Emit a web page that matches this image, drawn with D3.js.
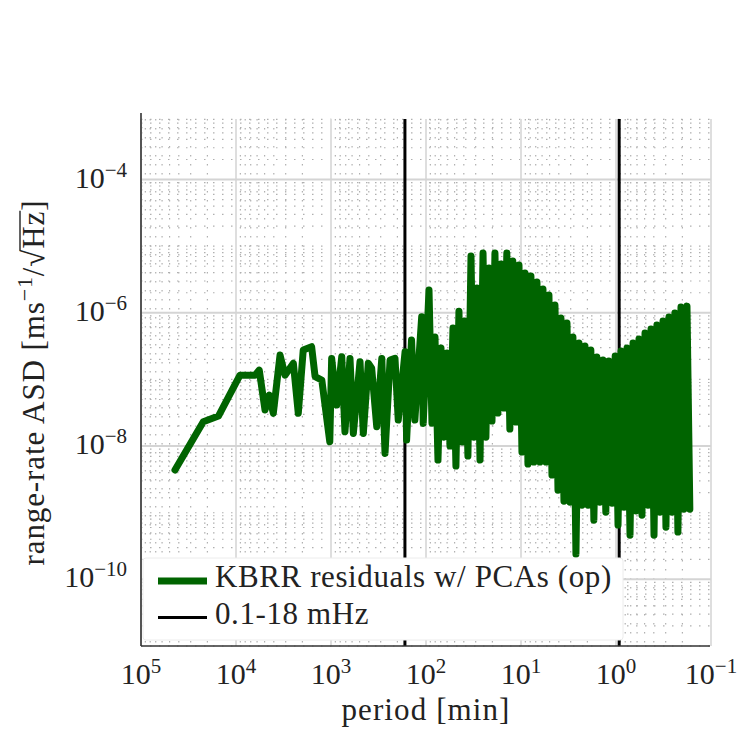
<!DOCTYPE html>
<html>
<head>
<meta charset="utf-8">
<script src="https://cdn.jsdelivr.net/npm/d3@7"></script>
<style>
  html, body { margin: 0; padding: 0; background: #fff; }
  svg { display: block; }
</style>
</head>
<body>
<div id="chart"></div>
<script>
// Low-frequency part of the spectrum (period in minutes, ASD in m/s/sqrt(Hz))
const lowPeriod = [4.39e4, 2.21e4, 1.53e4, 9.08e3, 6.31e3, 5.69e3, 4.95e3, 4.46e3, 4.05e3, 3.44e3,
    3.05e3, 2.49e3, 2.21e3, 1.96e3, 1.60e3, 1.47e3, 1.25e3, 1.03e3, 984, 871,
    771, 713, 631, 582, 495, 457, 405, 373, 330, 292,
    270, 239, 212, 196, 166, 160, 142, 131, 111, 107];
const lowAsd = [4.37e-9, 2.32e-8, 2.82e-8, 1.16e-7, 1.16e-7, 1.38e-7, 3.47e-8, 5.83e-8, 3.10e-8, 2.32e-7,
    1.16e-7, 1.75e-7, 3.10e-8, 2.76e-7, 3.10e-7, 1.10e-7, 9.8e-8, 1.16e-8, 2.07e-7, 4.13e-8,
    2.19e-7, 1.64e-8, 2.07e-7, 1.55e-8, 1.85e-7, 1.55e-8, 1.75e-7, 1.47e-7, 1.95e-8, 2.07e-7,
    7.76e-9, 1.95e-7, 2.07e-7, 2.46e-8, 2.61e-7, 1.23e-8, 3.91e-7, 2.46e-8, 8.73e-7, 2.19e-8];

// Dense part (read as alternating peaks / troughs of the band)
const bandPeriod = [93.0, 86.5, 80.4, 74.8, 69.5, 64.7, 60.1, 55.9, 52.0, 48.4,
    45.0, 41.8, 38.9, 36.2, 33.6, 31.3, 29.1, 27.0, 25.1, 23.4,
    21.7, 20.2, 18.8, 17.5, 16.3, 15.1, 14.1, 13.1, 12.2, 11.3,
    10.5, 9.77, 9.08, 8.45, 7.86, 7.31, 6.79, 6.32, 5.87, 5.46,
    5.08, 4.72, 4.39, 4.08, 3.80, 3.53, 3.28, 3.05, 2.84, 2.64,
    2.45, 2.28, 2.12, 1.97, 1.84, 1.71, 1.59, 1.48, 1.37, 1.28,
    1.19, 1.10, 1.02, 0.952, 0.885, 0.823, 0.766, 0.712, 0.662, 0.616,
    0.573, 0.533, 0.495, 0.461, 0.428, 0.398, 0.371, 0.345, 0.320, 0.298,
    0.277, 0.258, 0.240, 0.223, 0.207, 0.193, 0.179, 0.167];
const bandAsd = [2.20e-6, 2.21e-8, 4.34e-7, 6.17e-9, 2.96e-7, 1.36e-8, 2.49e-7, 1.0e-8, 5.92e-7, 5.01e-9,
    1.06e-6, 1.15e-8, 7.53e-7, 7.08e-9, 7.13e-6, 1.36e-8, 2.36e-6, 6.17e-9, 7.91e-6, 1.36e-8,
    4.71e-6, 2.37e-8, 7.91e-6, 3.13e-8, 5.41e-6, 3.72e-8, 7.91e-6, 1.80e-8, 6.00e-6, 2.29e-8,
    5.22e-6, 8.13e-9, 3.96e-6, 5.37e-9, 3.57e-6, 5.75e-9, 2.90e-6, 5.75e-9, 2.28e-6, 5.75e-9,
    1.85e-6, 3.67e-9, 1.31e-6, 2.18e-9, 8.36e-7, 1.49e-9, 7.03e-7, 1.44e-9, 4.34e-7, 2.39e-10,
    3.52e-7, 1.30e-9, 3.18e-7, 1.30e-9, 2.76e-7, 7.74e-10, 2.17e-7, 1.44e-9, 1.95e-7, 1.02e-9,
    1.89e-7, 1.39e-9, 2.24e-7, 6.52e-10, 2.67e-7, 1.21e-9, 2.96e-7, 4.61e-10, 3.52e-7, 1.06e-9,
    4.05e-7, 9.20e-10, 4.98e-7, 1.30e-9, 5.71e-7, 4.61e-10, 6.56e-7, 1.02e-9, 7.53e-7, 6.08e-10,
    8.65e-7, 1.02e-9, 9.93e-7, 5.12e-10, 1.22e-6, 1.13e-9, 1.26e-6, 1.13e-9];

// band limits 0.1 mHz and 18 mHz, as periods in minutes
const bandLimits = [166.67, 0.926];

const xTickValues = [1e5, 1e4, 1e3, 1e2, 1e1, 1e0, 1e-1];
const xTickExp = ["5", "4", "3", "2", "1", "0", "\u22121"];
const yTickValues = [1e-10, 1e-8, 1e-6, 1e-4];
const yTickExp = ["\u221210", "\u22128", "\u22126", "\u22124"];

const legendLabels = ["KBRR residuals w/ PCAs (op)", "0.1-18 mHz"];

const W = 737, H = 734;
const plot = { left: 141, right: 711, top: 119, bottom: 646 };
const FONT = "'Liberation Serif', 'Times New Roman', serif";
const GREEN = "#006400";
const INK = "#222";

const svg = d3.select("#chart").append("svg")
    .attr("width", W)
    .attr("height", H)
    .attr("font-family", FONT);

const x = d3.scaleLog().domain([1e5, 1e-1]).range([plot.left, plot.right]);
const y = d3.scaleLog().domain([1e-11, 8.1e-4]).range([plot.bottom, plot.top]);

// Grid: minor dotted, major solid
const gGrid = svg.append("g");
const isDecade = v => Math.abs(Math.log10(v) - Math.round(Math.log10(v))) < 1e-9;
const xMajorExp = new Set(xTickValues.map(v => Math.round(Math.log10(v))));
const yMajorExp = new Set(yTickValues.map(v => Math.round(Math.log10(v))));
const xMinor = x.ticks().filter(v => !(isDecade(v) && xMajorExp.has(Math.round(Math.log10(v)))));
const yMinor = y.ticks().filter(v => !(isDecade(v) && yMajorExp.has(Math.round(Math.log10(v)))));

gGrid.selectAll("line.xminor")
    .data(xMinor)
    .join("line")
    .attr("x1", d => x(d)).attr("x2", d => x(d))
    .attr("y1", plot.top).attr("y2", plot.bottom)
    .attr("stroke", "#b0b0b0")
    .attr("stroke-width", 1.2)
    .attr("stroke-dasharray", "1.5,7.5");

gGrid.selectAll("line.yminor")
    .data(yMinor.filter(d => y(d) >= plot.top))
    .join("line")
    .attr("x1", plot.left).attr("x2", plot.right)
    .attr("y1", d => y(d)).attr("y2", d => y(d))
    .attr("stroke", "#b0b0b0")
    .attr("stroke-width", 1.2)
    .attr("stroke-dasharray", "1.5,7.5");

gGrid.selectAll("line.xmajor")
    .data(xTickValues)
    .join("line")
    .attr("x1", d => x(d)).attr("x2", d => x(d))
    .attr("y1", plot.top).attr("y2", plot.bottom)
    .attr("stroke", "#dedede")
    .attr("stroke-width", 2);

gGrid.selectAll("line.ymajor")
    .data(yTickValues)
    .join("line")
    .attr("x1", plot.left).attr("x2", plot.right)
    .attr("y1", d => y(d)).attr("y2", d => y(d))
    .attr("stroke", "#d4d4d4")
    .attr("stroke-width", 2);

// Band limit lines
svg.append("g").selectAll("line")
    .data(bandLimits)
    .join("line")
    .attr("x1", d => x(d)).attr("x2", d => x(d))
    .attr("y1", plot.top).attr("y2", plot.bottom)
    .attr("stroke", "#000")
    .attr("stroke-width", 3);

// Spectrum
const series = lowPeriod.map((p, i) => [p, lowAsd[i]])
    .concat(bandPeriod.map((p, i) => [p, bandAsd[i]]));

const line = d3.line()
    .x(d => x(d[0]))
    .y(d => y(d[1]));

svg.append("path")
    .datum(series)
    .attr("d", line)
    .attr("fill", "none")
    .attr("stroke", GREEN)
    .attr("stroke-width", 7)
    .attr("stroke-linejoin", "round")
    .attr("stroke-linecap", "round");

// Spines
svg.append("line")
    .attr("x1", plot.left).attr("x2", plot.left)
    .attr("y1", 113).attr("y2", plot.bottom)
    .attr("stroke", "#333").attr("stroke-width", 1.6);
svg.append("line")
    .attr("x1", plot.left).attr("x2", plot.right - 1)
    .attr("y1", plot.bottom).attr("y2", plot.bottom)
    .attr("stroke", "#333").attr("stroke-width", 1.6);

// Tick labels
const xLab = svg.append("g").selectAll("text")
    .data(xTickValues)
    .join("text")
    .attr("x", d => x(d))
    .attr("y", 684)
    .attr("text-anchor", "middle")
    .attr("font-size", 30)
    .attr("fill", INK);
xLab.append("tspan").text("10");
xLab.append("tspan").attr("dy", -11).attr("font-size", 21).text((d, i) => xTickExp[i]);

const yLab = svg.append("g").selectAll("text")
    .data(yTickValues)
    .join("text")
    .attr("x", 127)
    .attr("y", d => y(d) + 8)
    .attr("text-anchor", "end")
    .attr("font-size", 30)
    .attr("fill", INK);
yLab.append("tspan").text("10");
yLab.append("tspan").attr("dy", -11).attr("font-size", 21).text((d, i) => yTickExp[i]);

// Axis titles
svg.append("text")
    .attr("x", (plot.left + plot.right) / 2)
    .attr("y", 720)
    .attr("text-anchor", "middle")
    .attr("font-size", 31)
    .attr("letter-spacing", 1.1)
    .attr("fill", INK)
    .text("period [min]");

const gY = svg.append("g").attr("transform", `translate(44,${(plot.top + plot.bottom) / 2}) rotate(-90)`);
const yTitle = gY.append("text")
    .attr("text-anchor", "middle")
    .attr("font-size", 31)
    .attr("letter-spacing", 0.9)
    .attr("fill", INK);
yTitle.append("tspan").text("range-rate ASD [ms");
yTitle.append("tspan").attr("dy", -12).attr("font-size", 22).text("\u22121");
yTitle.append("tspan").attr("dy", 12).text("/\u221AHz]");
{
    const el = yTitle.node();
    const iSqrt = 21, iZ = 23;
    const x0 = el.getEndPositionOfChar(iSqrt).x - 2;
    const x1 = el.getEndPositionOfChar(iZ).x;
    gY.append("line")
        .attr("x1", x0).attr("x2", x1)
        .attr("y1", -24).attr("y2", -24)
        .attr("stroke", INK).attr("stroke-width", 1.4);
}

// Legend
const gLeg = svg.append("g");
gLeg.append("rect")
    .attr("x", 143).attr("y", 558)
    .attr("width", 480).attr("height", 82)
    .attr("rx", 3)
    .attr("fill", "#fff")
    .attr("stroke", "#ececec");

const legStyles = [
    { color: GREEN, width: 7 },
    { color: "#000", width: 3 }
];
legendLabels.forEach((lab, i) => {
    const cy = 581 + i * 36.5;
    gLeg.append("line")
        .attr("x1", 158).attr("x2", 207)
        .attr("y1", cy).attr("y2", cy)
        .attr("stroke", legStyles[i].color)
        .attr("stroke-width", legStyles[i].width);
    gLeg.append("text")
        .attr("x", 215).attr("y", cy + 6)
        .attr("font-size", 31)
        .attr("letter-spacing", 0.6)
        .attr("fill", INK)
        .text(lab);
});
</script>
</body>
</html>
